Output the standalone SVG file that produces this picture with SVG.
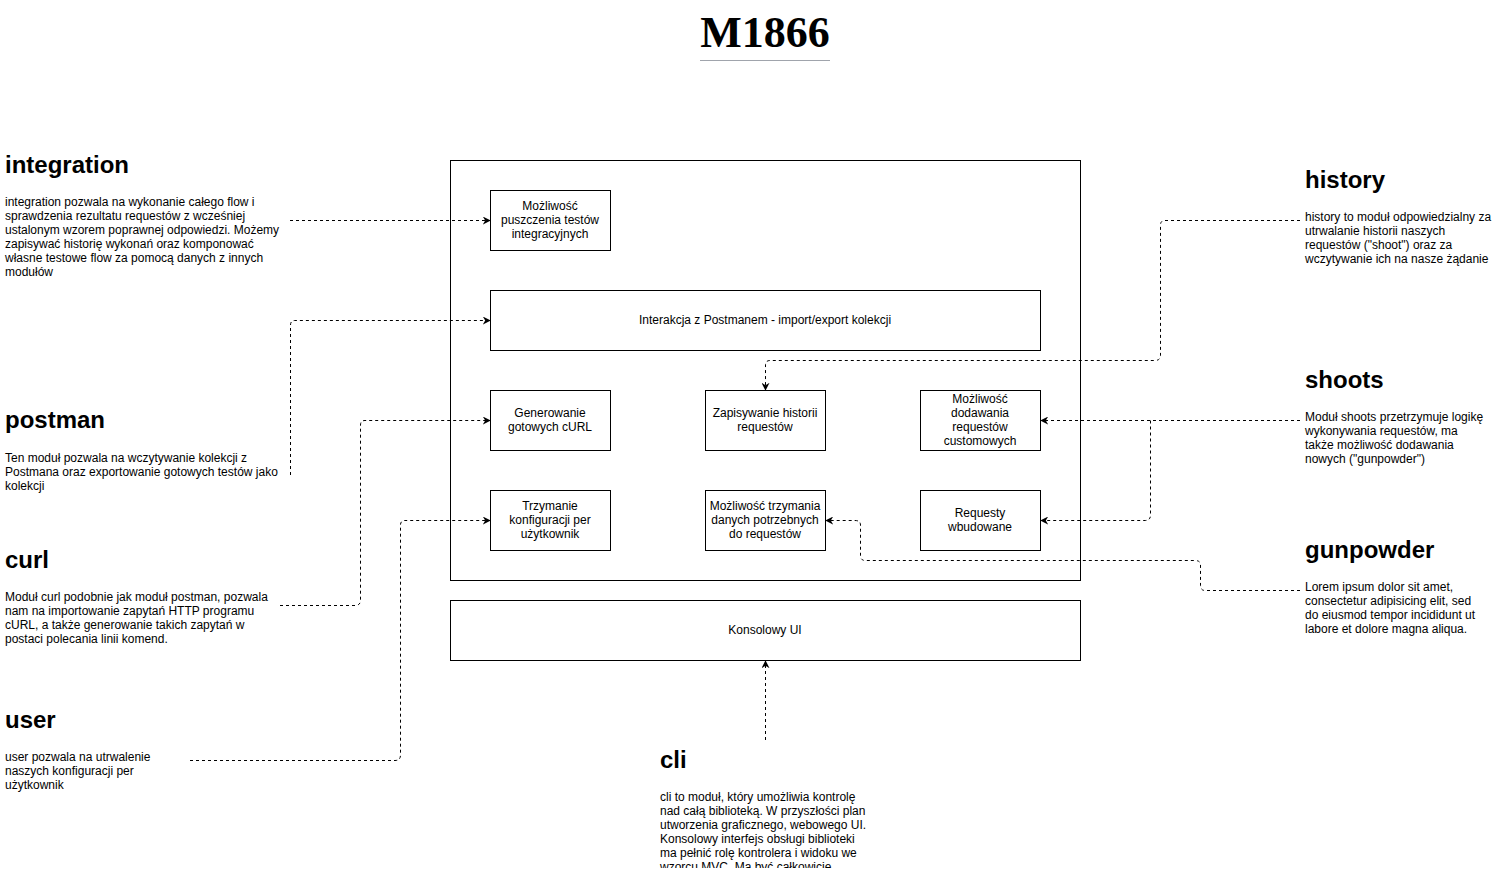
<svg xmlns="http://www.w3.org/2000/svg" width="1501" height="871" viewBox="0 0 1501 871">
<style>
.box{fill:#fff;stroke:#000;stroke-width:1}
.lbl{font-family:"Liberation Sans",Arial,sans-serif;font-size:12px;fill:#000;text-anchor:middle}
.h{font-family:"Liberation Sans",Arial,sans-serif;font-size:24px;font-weight:bold;fill:#000}
.t{font-family:"Liberation Sans",Arial,sans-serif;font-size:12px;fill:#000}
.c{fill:none;stroke:#000;stroke-width:1;stroke-dasharray:3 3;marker-end:url(#ah)}
</style>
<defs>
<marker id="ah" viewBox="0 0 10 10" refX="9" refY="5" markerWidth="8" markerHeight="8" markerUnits="userSpaceOnUse" orient="auto">
<path d="M0,0 L10,5 L0,10 L3,5 Z" fill="#000"/>
</marker>
<clipPath id="cliclip"><rect x="650" y="740" width="260" height="128"/></clipPath>
</defs>
<rect width="1501" height="871" fill="#fff"/>
<g id="title">
<text x="765" y="47" text-anchor="middle" font-family="Liberation Serif,Times New Roman,serif" font-size="44" font-weight="bold">M1866</text>
<line x1="700" y1="60.5" x2="830" y2="60.5" stroke="#a0a4ac" stroke-width="1"/>
</g>
<g id="container"><rect class="box" x="450.5" y="160.5" width="630" height="420"/></g>
<g id="n-integr"><rect class="box" x="490.5" y="190.5" width="120" height="60"/><text class="lbl"><tspan x="550" y="210">Możliwość</tspan><tspan x="550" y="224">puszczenia testów</tspan><tspan x="550" y="238">integracyjnych</tspan></text></g>
<g id="n-postman"><rect class="box" x="490.5" y="290.5" width="550" height="60"/><text class="lbl" x="765" y="324">Interakcja z Postmanem - import/export kolekcji</text></g>
<g id="n-curl"><rect class="box" x="490.5" y="390.5" width="120" height="60"/><text class="lbl"><tspan x="550" y="417">Generowanie</tspan><tspan x="550" y="431">gotowych cURL</tspan></text></g>
<g id="n-hist"><rect class="box" x="705.5" y="390.5" width="120" height="60"/><text class="lbl"><tspan x="765" y="417">Zapisywanie historii</tspan><tspan x="765" y="431">requestów</tspan></text></g>
<g id="n-custom"><rect class="box" x="920.5" y="390.5" width="120" height="60"/><text class="lbl"><tspan x="980" y="403">Możliwość</tspan><tspan x="980" y="417">dodawania</tspan><tspan x="980" y="431">requestów</tspan><tspan x="980" y="445">customowych</tspan></text></g>
<g id="n-user"><rect class="box" x="490.5" y="490.5" width="120" height="60"/><text class="lbl"><tspan x="550" y="510">Trzymanie</tspan><tspan x="550" y="524">konfiguracji per</tspan><tspan x="550" y="538">użytkownik</tspan></text></g>
<g id="n-data"><rect class="box" x="705.5" y="490.5" width="120" height="60"/><text class="lbl"><tspan x="765" y="510">Możliwość trzymania</tspan><tspan x="765" y="524">danych potrzebnych</tspan><tspan x="765" y="538">do requestów</tspan></text></g>
<g id="n-builtin"><rect class="box" x="920.5" y="490.5" width="120" height="60"/><text class="lbl"><tspan x="980" y="517">Requesty</tspan><tspan x="980" y="531">wbudowane</tspan></text></g>
<g id="n-cli-ui"><rect class="box" x="450.5" y="600.5" width="630" height="60"/><text class="lbl" x="765" y="634">Konsolowy UI</text></g>

<g id="d-integration"><text class="h" x="5" y="173">integration</text><text class="t"><tspan x="5" y="206">integration pozwala na wykonanie całego flow i</tspan><tspan x="5" y="220">sprawdzenia rezultatu requestów z wcześniej</tspan><tspan x="5" y="234">ustalonym wzorem poprawnej odpowiedzi. Możemy</tspan><tspan x="5" y="248">zapisywać historię wykonań oraz komponować</tspan><tspan x="5" y="262">własne testowe flow za pomocą danych z innych</tspan><tspan x="5" y="276">modułów</tspan></text></g>
<g id="d-postman"><text class="h" x="5" y="428">postman</text><text class="t"><tspan x="5" y="462">Ten moduł pozwala na wczytywanie kolekcji z</tspan><tspan x="5" y="476">Postmana oraz exportowanie gotowych testów jako</tspan><tspan x="5" y="490">kolekcji</tspan></text></g>
<g id="d-curl"><text class="h" x="5" y="568">curl</text><text class="t"><tspan x="5" y="601">Moduł curl podobnie jak moduł postman, pozwala</tspan><tspan x="5" y="615">nam na importowanie zapytań HTTP programu</tspan><tspan x="5" y="629">cURL, a także generowanie takich zapytań w</tspan><tspan x="5" y="643">postaci polecania linii komend.</tspan></text></g>
<g id="d-user"><text class="h" x="5" y="728">user</text><text class="t"><tspan x="5" y="761">user pozwala na utrwalenie</tspan><tspan x="5" y="775">naszych konfiguracji per</tspan><tspan x="5" y="789">użytkownik</tspan></text></g>
<g id="d-history"><text class="h" x="1305" y="188">history</text><text class="t"><tspan x="1305" y="221">history to moduł odpowiedzialny za</tspan><tspan x="1305" y="235">utrwalanie historii naszych</tspan><tspan x="1305" y="249">requestów ("shoot") oraz za</tspan><tspan x="1305" y="263">wczytywanie ich na nasze żądanie</tspan></text></g>
<g id="d-shoots"><text class="h" x="1305" y="388">shoots</text><text class="t"><tspan x="1305" y="421">Moduł shoots przetrzymuje logikę</tspan><tspan x="1305" y="435">wykonywania requestów, ma</tspan><tspan x="1305" y="449">także możliwość dodawania</tspan><tspan x="1305" y="463">nowych ("gunpowder")</tspan></text></g>
<g id="d-gunpowder"><text class="h" x="1305" y="558">gunpowder</text><text class="t"><tspan x="1305" y="591">Lorem ipsum dolor sit amet,</tspan><tspan x="1305" y="605">consectetur adipisicing elit, sed</tspan><tspan x="1305" y="619">do eiusmod tempor incididunt ut</tspan><tspan x="1305" y="633">labore et dolore magna aliqua.</tspan></text></g>
<g id="d-cli"><text class="h" x="660" y="768">cli</text><text class="t" clip-path="url(#cliclip)"><tspan x="660" y="801">cli to moduł, który umożliwia kontrolę</tspan><tspan x="660" y="815">nad całą biblioteką. W przyszłości plan</tspan><tspan x="660" y="829">utworzenia graficznego, webowego UI.</tspan><tspan x="660" y="843">Konsolowy interfejs obsługi biblioteki</tspan><tspan x="660" y="857">ma pełnić rolę kontrolera i widoku we</tspan><tspan x="660" y="871">wzorcu MVC. Ma być całkowicie</tspan></text></g>

<g id="connectors">
<path class="c" d="M290,220.5 H490"/>
<path class="c" d="M290.5,475 V325 Q290.5,320.5 295,320.5 H490"/>
<path class="c" d="M280,605.5 H355 Q360.5,605.5 360.5,600 V425 Q360.5,420.5 365,420.5 H490"/>
<path class="c" d="M190,760.5 H395 Q400.5,760.5 400.5,755 V525 Q400.5,520.5 405,520.5 H490"/>
<path class="c" d="M1300,220.5 H1165 Q1160.5,220.5 1160.5,225 V355 Q1160.5,360.5 1155,360.5 H770 Q765.5,360.5 765.5,365 V390"/>
<path class="c" d="M1300,420.5 H1041"/>
<path class="c" d="M1150.5,420.5 V515 Q1150.5,520.5 1145,520.5 H1041"/>
<path class="c" d="M1300,590.5 H1205 Q1200.5,590.5 1200.5,585 V565 Q1200.5,560.5 1195,560.5 H865 Q860.5,560.5 860.5,555 V525 Q860.5,520.5 855,520.5 H826"/>
<path class="c" d="M765.5,740 V661"/>
</g>
</svg>
